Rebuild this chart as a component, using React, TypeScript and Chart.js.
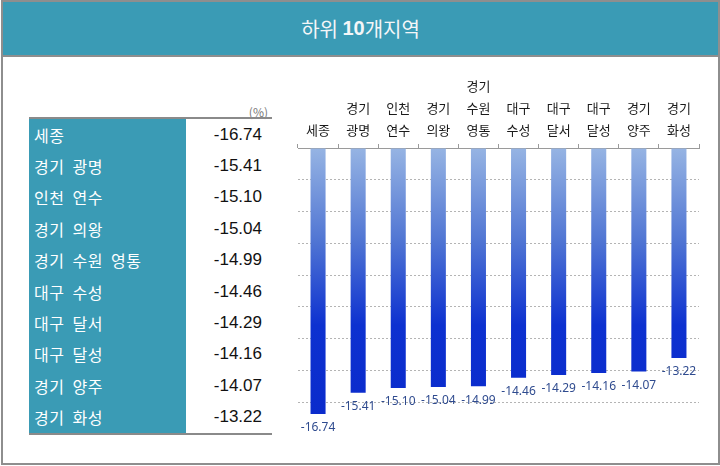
import React, { useEffect, useRef } from "react";
import { Chart, registerables } from "chart.js";

Chart.register(...registerables);

const titleLead = "하위 ";
const titleBold = "10";
const titleTail = "개지역";
const unitLabel = "(%)";
const regions = [
  "세종",
  "경기 광명",
  "인천 연수",
  "경기 의왕",
  "경기 수원 영통",
  "대구 수성",
  "대구 달서",
  "대구 달성",
  "경기 양주",
  "경기 화성",
];
const values = [-16.74, -15.41, -15.1, -15.04, -14.99, -14.46, -14.29, -14.16, -14.07, -13.22];
const axisMin = -18;
const axisMax = 0;
const axisStep = 2;

const TEAL = "#3a9bb5";

const valueLabelPlugin = {
  id: "valueLabels",
  afterDatasetsDraw(chart: any) {
    const ctx = chart.ctx;
    const meta = chart.getDatasetMeta(0);
    ctx.save();
    ctx.font = '12px "Noto Sans", sans-serif';
    ctx.fillStyle = "#2f4b8f";
    ctx.textAlign = "center";
    ctx.textBaseline = "middle";
    meta.data.forEach((el: any, i: number) => {
      ctx.fillText(values[i].toFixed(2), el.x, el.y + 14);
    });
    ctx.restore();
  },
};

function BarChart() {
  const ref = useRef<HTMLCanvasElement | null>(null);
  useEffect(() => {
    if (!ref.current) return;
    const chart = new Chart(ref.current, {
      type: "bar",
      data: {
        labels: regions.map((r) => (r.includes(" ") ? r.split(" ") : r)),
        datasets: [
          {
            data: values,
            barPercentage: 0.375,
            categoryPercentage: 1,
            borderWidth: 0,
            backgroundColor: (c: any) => {
              const area = c.chart.chartArea;
              if (!area) return "#3050d0";
              const g = c.chart.ctx.createLinearGradient(0, area.top, 0, area.bottom);
              g.addColorStop(0, "#96b4e3");
              g.addColorStop(0.33, "#4f74d3");
              g.addColorStop(0.62, "#0d31d0");
              g.addColorStop(1, "#0a2acb");
              return g;
            },
          },
        ],
      },
      options: {
        responsive: false,
        animation: false,
        devicePixelRatio: 1,
        layout: { padding: { left: 18, right: 16, top: 0, bottom: 26 } },
        plugins: { legend: { display: false }, tooltip: { enabled: false } },
        scales: {
          x: {
            position: "top",
            grid: {
              drawOnChartArea: false,
              drawTicks: true,
              tickLength: 4,
              color: "#9a9a9a",
            },
            border: { display: true, color: "#9a9a9a", width: 1 },
            ticks: {
              color: "#1a1a1a",
              padding: 3,
              maxRotation: 0,
              autoSkip: false,
              font: { family: '"Noto Sans CJK KR", sans-serif', size: 13, lineHeight: "22px" },
            },
            afterFit: (s: any) => {
              s.height = 88;
            },
          },
          y: {
            min: axisMin,
            max: axisMax,
            ticks: { display: false, stepSize: axisStep },
            grid: {
              drawTicks: false,
              color: (c: any) => (c.tick && c.tick.value === axisMin ? "rgba(0,0,0,0)" : "#b4b4b4"),
              lineWidth: 1,
            },
            border: { display: false, dash: [2, 2] },
            afterFit: (s: any) => {
              s.width = 0;
            },
          },
        },
      },
      plugins: [valueLabelPlugin],
    } as any);
    return () => chart.destroy();
  }, []);
  return <canvas ref={ref} width={435} height={400} style={{ width: 435, height: 400, display: "block" }} />;
}

export default function App() {
  useEffect(() => {
    document.body.style.margin = "0";
  }, []);
  return (
    <div
      style={{
        position: "absolute",
        left: 0,
        top: 0,
        width: 720,
        height: 466,
        background: "#fff",
        overflow: "hidden",
      }}
    >
      <div
        style={{
          position: "absolute",
          left: 1,
          top: 0,
          width: 719,
          height: 465,
          boxSizing: "border-box",
          border: "2px solid #8e8e8e",
        }}
      />
      <div
        style={{
          position: "absolute",
          left: 3,
          top: 2,
          width: 715,
          height: 53,
          background: TEAL,
          borderBottom: "2px solid #8e8e8e",
          display: "flex",
          alignItems: "center",
          justifyContent: "center",
          color: "#f4f6f8",
          fontSize: 20,
          fontFamily: '"Liberation Sans", "Noto Sans CJK KR", sans-serif',
        }}
      >
        <span style={{ fontFamily: '"Noto Sans CJK KR", sans-serif', whiteSpace: "pre" }}>{titleLead}</span>
        <span style={{ fontWeight: 700 }}>{titleBold}</span>
        <span style={{ fontFamily: '"Noto Sans CJK KR", sans-serif' }}>{titleTail}</span>
      </div>
      <div
        style={{
          position: "absolute",
          left: 29,
          top: 104,
          width: 239,
          textAlign: "right",
          fontSize: 12,
          color: "#777",
          fontFamily: '"Noto Sans CJK KR", sans-serif',
          lineHeight: "16px",
        }}
      >
        {unitLabel}
      </div>
      <div
        style={{
          position: "absolute",
          left: 29,
          top: 117,
          width: 243,
          borderTop: "2px solid #8a8a8a",
          borderBottom: "2px solid #8a8a8a",
        }}
      >
        {regions.map((r, i) => (
          <div key={r} style={{ display: "flex", height: 31.4 }}>
            <div
              style={{
                width: 157,
                background: TEAL,
                color: "#fff",
                fontFamily: '"Noto Sans CJK KR", sans-serif',
                fontSize: 16,
                wordSpacing: 4,
                letterSpacing: 0.5,
                paddingLeft: 5,
                boxSizing: "border-box",
                display: "flex",
                alignItems: "center",
              }}
            >
              {r}
            </div>
            <div
              style={{
                width: 86,
                color: "#111",
                fontFamily: '"Liberation Sans", Arial, sans-serif',
                fontSize: 17,
                paddingRight: 10,
                boxSizing: "border-box",
                display: "flex",
                alignItems: "center",
                justifyContent: "flex-end",
              }}
            >
              {values[i].toFixed(2)}
            </div>
          </div>
        ))}
      </div>
      <div style={{ position: "absolute", left: 280, top: 60 }}>
        <BarChart />
      </div>
    </div>
  );
}
